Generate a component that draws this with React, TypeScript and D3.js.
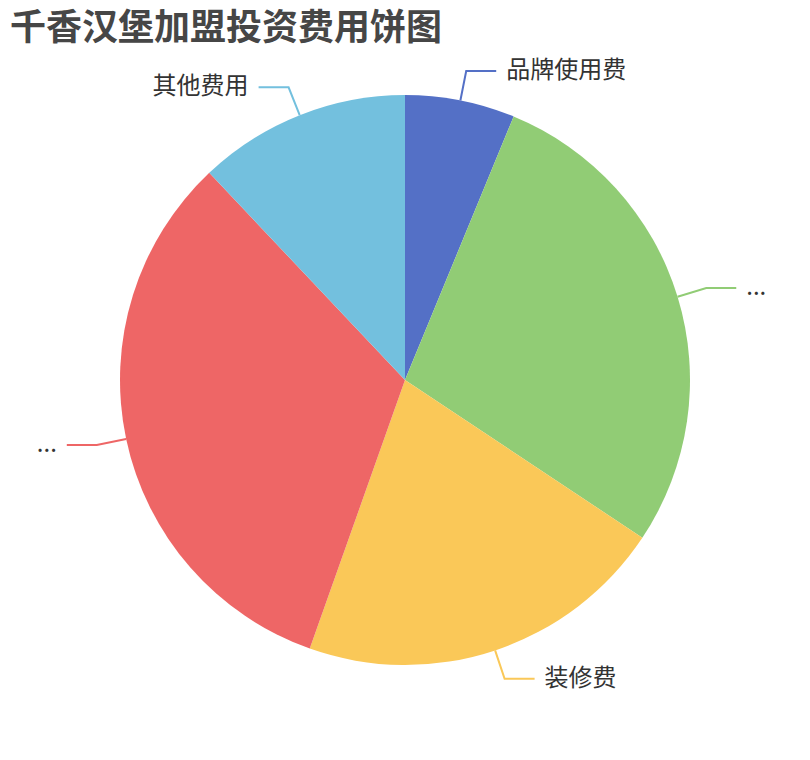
import React from "react";
import * as d3 from "d3";

const categories = ["品牌使用费", "设备购置费", "装修费", "首批进货及加盟费", "其他费用"];
const displayLabels = ["品牌使用费", "...", "装修费", "...", "其他费用"];
const values = [3.1, 14, 10.5, 16.2, 6];
const colors = ["#5470c6", "#91cc75", "#fac858", "#ee6666", "#73c0de"];
const title = "千香汉堡加盟投资费用饼图";

const W = 810;
const H = 760;
const FONT = "'Noto Sans CJK SC', 'Noto Sans', sans-serif";

export default function App() {
  const cx = W / 2;
  const cy = H / 2;
  const r = Math.min(W, H) / 2 * 0.75;
  const len1 = 30;
  const len2 = 30;
  const gap = 10;

  const pie = d3
    .pie<number>()
    .sort(null)
    .value((d) => d)
    .startAngle(0)
    .endAngle(2 * Math.PI);
  const arcs = pie(values);
  const arcGen = d3.arc<d3.PieArcDatum<number>>().innerRadius(0).outerRadius(r);

  return (
    <svg
      width={W}
      height={H}
      style={{ position: "absolute", left: 0, top: 0, background: "#fff" }}
    >
      <text
        x={10}
        y={40}
        fontFamily={FONT}
        fontSize={36}
        fontWeight="bold"
        fill="#464646"
      >
        {title}
      </text>
      <g transform={`translate(${cx},${cy})`}>
        {arcs.map((a, i) => (
          <path key={categories[i]} d={arcGen(a) || ""} fill={colors[i]} />
        ))}
        {arcs.map((a, i) => {
          const mid = (a.startAngle + a.endAngle) / 2;
          const sx = Math.sin(mid);
          const sy = -Math.cos(mid);
          const p0 = [sx * r, sy * r];
          const p1 = [sx * (r + len1), sy * (r + len1)];
          const right = sx >= 0;
          const p2 = [p1[0] + (right ? len2 : -len2), p1[1]];
          const tx = p2[0] + (right ? gap : -gap);
          return (
            <g key={"l" + categories[i]}>
              <polyline
                points={`${p0[0]},${p0[1]} ${p1[0]},${p1[1]} ${p2[0]},${p2[1]}`}
                fill="none"
                stroke={colors[i]}
                strokeWidth={2}
              />
              <text
                x={tx}
                y={p2[1] + 7}
                textAnchor={right ? "start" : "end"}
                fontFamily={FONT}
                fontSize={24}
                fill="#333"
              >
                {displayLabels[i]}
              </text>
            </g>
          );
        })}
      </g>
    </svg>
  );
}
